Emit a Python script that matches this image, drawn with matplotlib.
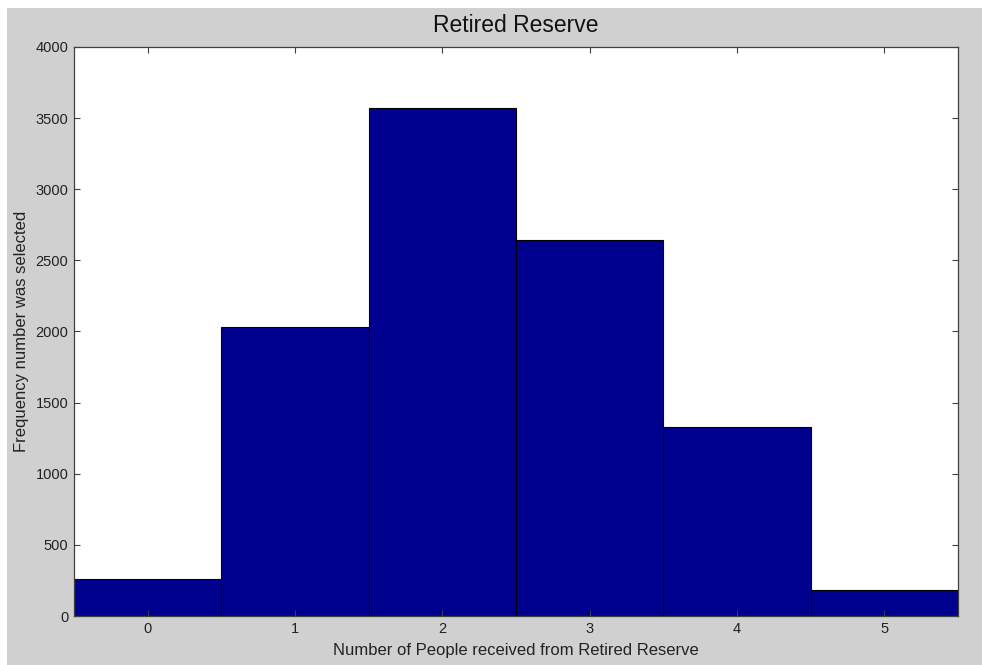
import matplotlib
matplotlib.use('Agg')
import matplotlib.pyplot as plt
from matplotlib.patches import Rectangle

plt.rcParams['font.family'] = ['Liberation Sans', 'DejaVu Sans']

people = [0, 1, 2, 3, 4, 5]
counts = [260, 2035, 3570, 2645, 1330, 180]
y_ticks = [0, 500, 1000, 1500, 2000, 2500, 3000, 3500, 4000]

fig = plt.figure(figsize=(9.82, 6.65), dpi=100, facecolor='white')
# grey matlab-style figure background, white strip on top and left
fig.patches.append(Rectangle((7 / 982, 0), 1, 1 - 8 / 665, transform=fig.transFigure,
                             facecolor='#d0d0d0', edgecolor='none', zorder=-10))

ax = fig.add_axes([74 / 982, 1 - 616 / 665, (958 - 74) / 982, (616 - 47) / 665])
ax.bar(people, counts, width=1.0, color='#00008f', edgecolor='black', linewidth=0.8)

ax.set_xlim(-0.5, 5.5)
ax.set_ylim(0, 4000)
ax.set_xticks(people)
ax.set_yticks(y_ticks)
ax.tick_params(direction='in', length=4, width=0.8, top=True, right=True,
               labelsize=10.5, colors='#404040', labelcolor='#222222', pad=4)
for s in ax.spines.values():
    s.set_color('#404040')
    s.set_linewidth(0.9)

ax.set_title('Retired Reserve', fontsize=16.5, color='#111111', pad=10.5)
ax.set_xlabel('Number of People received from Retired Reserve', fontsize=12,
              color='#222222', labelpad=5)
ax.set_ylabel('Frequency number was selected', fontsize=12, color='#222222', labelpad=5)

fig.savefig('out.png', dpi=100, facecolor=fig.get_facecolor())
